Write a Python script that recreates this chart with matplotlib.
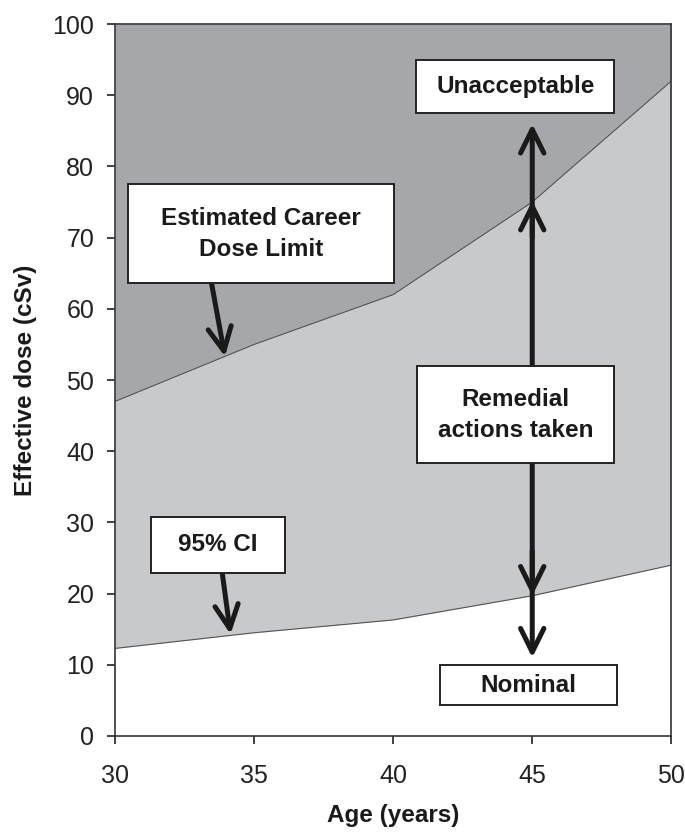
import matplotlib.pyplot as plt
import numpy as np

# data
age = [30, 35, 40, 45, 50]
career_limit = [47, 55, 62, 75, 92]
ci_lower = [12.3, 14.5, 16.3, 19.7, 24]

plt.rcParams['font.family'] = ['Liberation Sans', 'DejaVu Sans']

fig = plt.figure(figsize=(6.85, 8.35), dpi=100)
ax = fig.add_axes([0.168, 0.1186, 0.812, 0.8525])

ax.fill_between(age, career_limit, 100, color='#a6a7ab', lw=0)
ax.fill_between(age, ci_lower, career_limit, color='#c8c9cb', lw=0)
ax.plot(age, career_limit, color='#555555', lw=0.8)
ax.plot(age, ci_lower, color='#555555', lw=0.8)

ax.set_xlim(30, 50)
ax.set_ylim(0, 100)
ax.set_xticks(range(30, 51, 5))
ax.tick_params(direction='out', length=6, width=1.2, labelsize=18, colors='#222222', pad=9)
ax.set_yticks(range(0, 101, 10))
ax.tick_params(axis='x', pad=14)
for s in ax.spines.values():
    s.set_linewidth(1.2)
    s.set_color('#333333')

ax.set_xlabel('Age (years)', fontsize=17.5, fontweight='bold', color='#1a1a1a', labelpad=12)
ax.set_ylabel('Effective dose (cSv)', fontsize=17.5, fontweight='bold', color='#1a1a1a', labelpad=11)

arrow = dict(arrowstyle='->,head_length=0.85,head_width=0.42', lw=3.6, color='#1a1a1a',
             mutation_scale=20, shrinkA=0, shrinkB=0)

# vertical remedial-action arrow at age 45
ax.annotate('', xy=(45, 86), xytext=(45, 45), arrowprops=arrow)
ax.annotate('', xy=(45, 75.2), xytext=(45, 70), arrowprops=arrow)
ax.annotate('', xy=(45, 11), xytext=(45, 45), arrowprops=arrow)
ax.annotate('', xy=(45, 19.7), xytext=(45, 26), arrowprops=arrow)

# label arrows
ax.annotate('', xy=(33.95, 53.3), xytext=(33.45, 64), arrowprops=arrow)
ax.annotate('', xy=(34.15, 14.3), xytext=(33.85, 23), arrowprops=arrow)


def label_box(x0, x1, y0, y1, text):
    ax.add_patch(plt.Rectangle((x0, y0), x1 - x0, y1 - y0, fc='white', ec='#222222', lw=1.4, zorder=5))
    ax.text((x0 + x1) / 2, (y0 + y1) / 2, text, ha='center', va='center', fontsize=17.5,
            fontweight='bold', color='#1a1a1a', zorder=6, linespacing=1.45)


label_box(30.47, 40.04, 63.6, 77.5, 'Estimated Career\nDose Limit')
label_box(40.83, 47.95, 87.5, 94.9, 'Unacceptable')
label_box(40.87, 47.95, 38.3, 52.0, 'Remedial\nactions taken')
label_box(31.3, 36.1, 22.9, 30.8, '95% CI')
label_box(41.7, 48.05, 4.3, 10.0, 'Nominal')

fig.savefig('out.png', dpi=100)
